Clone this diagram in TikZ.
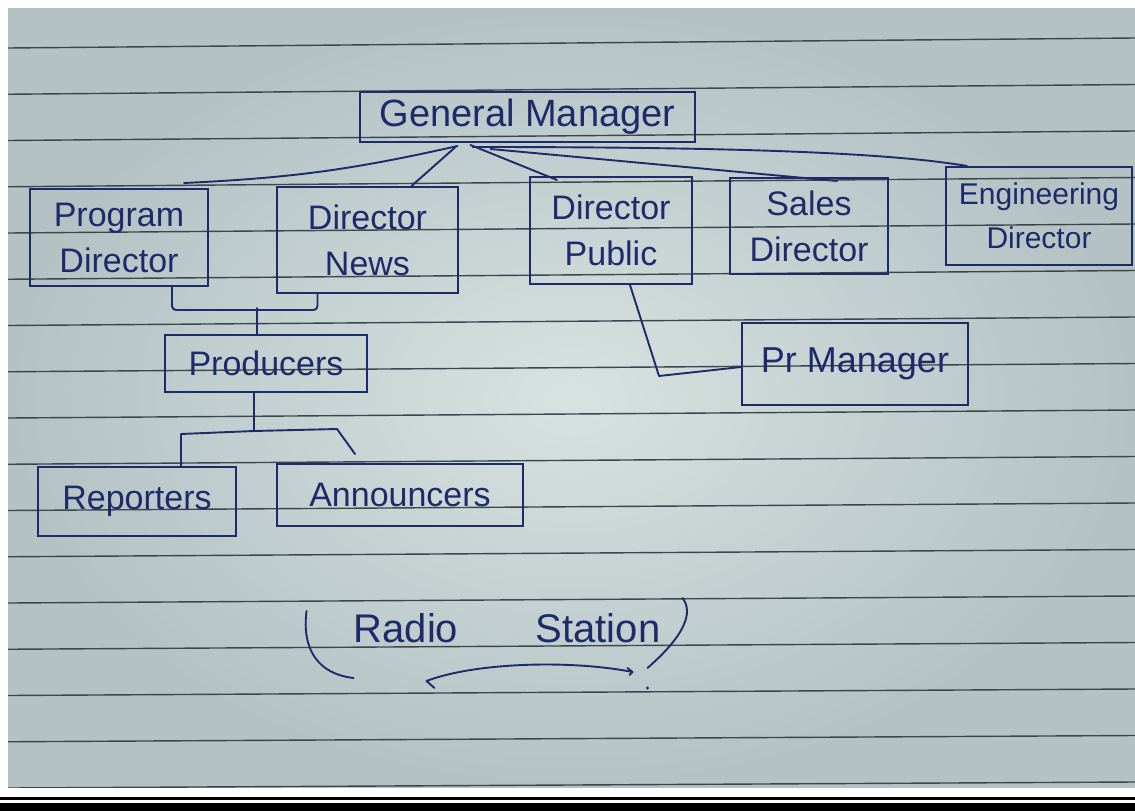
\documentclass[tikz,border=0pt]{standalone}
\usepackage{fontspec}
\setmainfont{Liberation Sans}
\usetikzlibrary{calc}
\definecolor{ink}{RGB}{30,42,105}
\definecolor{rulecol}{RGB}{58,70,76}
\definecolor{paperin}{RGB}{216,226,224}
\definecolor{paperout}{RGB}{180,194,196}
\begin{document}
\begin{tikzpicture}[x=1pt,y=-1pt,
  box/.style={draw=ink, line width=2pt, text=ink, font=\fontsize{34}{46}\selectfont, align=center, inner sep=0pt},
  link/.style={draw=ink, line width=1.9pt, line join=round, line cap=round},
  script/.style={text=ink, font=\fontsize{40}{48}\selectfont, inner sep=0pt}]
\useasboundingbox (0,0) rectangle (1135,811);
\fill[white] (0,0) rectangle (1135,811);
\shade[inner color=paperin, outer color=paperout] (8,8) rectangle (1135,787);
\begin{scope}
  \clip (8,8) rectangle (1135,787);
  \foreach \i in {0,...,16} {
    \pgfmathsetmacro{\yl}{48+46.25*\i}
    \pgfmathsetmacro{\yr}{\yl-10+4*\i/16}
    \draw[rulecol, line width=1.4pt] (8,\yl) -- (1135,\yr);
  }
\end{scope}
\fill[black] (0,797) rectangle (1135,800);
\fill[black] (0,803) rectangle (1135,811);

% nodes
\node[box, minimum width=335pt, minimum height=50pt, font=\fontsize{38}{46}\selectfont] (gm) at (527.5,117) {General Manager};
\node[box, minimum width=178pt, minimum height=97pt] (pd) at (119,237.5) {Program\\Director};
\node[box, minimum width=181pt, minimum height=106pt] (dn) at (367.5,240) {Director\\News};
\node[box, minimum width=162pt, minimum height=107pt] (dp) at (611,230.5) {Director\\Public};
\node[box, minimum width=158pt, minimum height=96pt] (sd) at (809,226) {Sales\\Director};
\node[box, minimum width=186pt, minimum height=98pt, font=\fontsize{30}{44}\selectfont] (ed) at (1039,216) {Engineering\\Director};
\node[box, minimum width=226pt, minimum height=82pt, font=\fontsize{36}{44}\selectfont] (pr) at (855,364) {Pr Manager};
\node[box, minimum width=202pt, minimum height=57pt] (prod) at (266,363.5) {Producers};
\node[box, minimum width=198pt, minimum height=69pt] (rep) at (137,501.5) {Reporters};
\node[box, minimum width=246pt, minimum height=62pt] (ann) at (400,495) {Announcers};

\node[script] (radio) at (406,628) {Radio};
\node[script] (station) at (598,628) {Station};

% connectors from General Manager
\draw[link] ($(gm.south)+(-70,3)$) to[bend left=5] ($(pd.north)+(65,-5)$);
\draw[link] ($(gm.south)+(-72,4)$) -- ($(dn.north)+(44,0)$);
\draw[link] ($(gm.south)+(-57,2)$) -- ($(dp.north)+(-54,4)$);
\draw[link] ($(gm.south)+(-37,6)$) -- ($(sd.north)+(28,4)$);
\draw[link] ($(gm.south)+(-55,4)$) .. controls ($(gm.south)+(175,4)$) and ($(ed.north)+(-160,-15)$) .. ($(ed.north)+(-72,0)$);

% program/news to producers
\draw[link, rounded corners=4pt] ($(pd.south)+(53,0)$) |- ($(dn.south)+(-50,16)$) -- ($(dn.south)+(-50,0)$);
\coordinate (pj) at ($(prod.north)+(-9,-26)$);
\draw[link] (pj) -- ($(prod.north)+(-9,0)$);

% public to pr manager
\draw[link] ($(dp.south)+(19,0)$) -- ($(pr.west)+(-82,12)$) -- ($(pr.west)+(0,3)$);

% producers to reporters / announcers
\draw[link] ($(prod.south)+(-12,0)$) -- ($(prod.south)+(-12,38)$) coordinate (rj);
\draw[link] (rj) -- ($(rep.north)+(44,-32)$) -- ($(rep.north)+(44,0)$);
\draw[link] (rj) -- ($(ann.north)+(-63,-34)$) -- ($(ann.north)+(-45,-9)$);

% radio station brackets and arrow
\draw[link] ($(radio.west)+(-47,-17)$) .. controls ($(radio.west)+(-52,22)$) and ($(radio.west)+(-35,46)$) .. ($(radio.west)+(0,50)$);
\draw[link] ($(station.east)+(22,-30)$) .. controls ($(station.east)+(33,-16)$) and ($(station.east)+(25,7)$) .. ($(station.east)+(-13,40)$);
\draw[link] ($(station.east)+(-28,44)$) .. controls ($(station.east)+(-88,32)$) and ($(radio.east)+(18,34)$) .. ($(radio.east)+(-32,53)$) -- ($(radio.east)+(-24,60)$);
\draw[link] ($(station.east)+(-33,40)$) -- ($(station.east)+(-28,44)$) -- ($(station.east)+(-31,47)$);
\fill[ink] ($(station.east)+(-13,60)$) circle (1.6);
\end{tikzpicture}
\end{document}
